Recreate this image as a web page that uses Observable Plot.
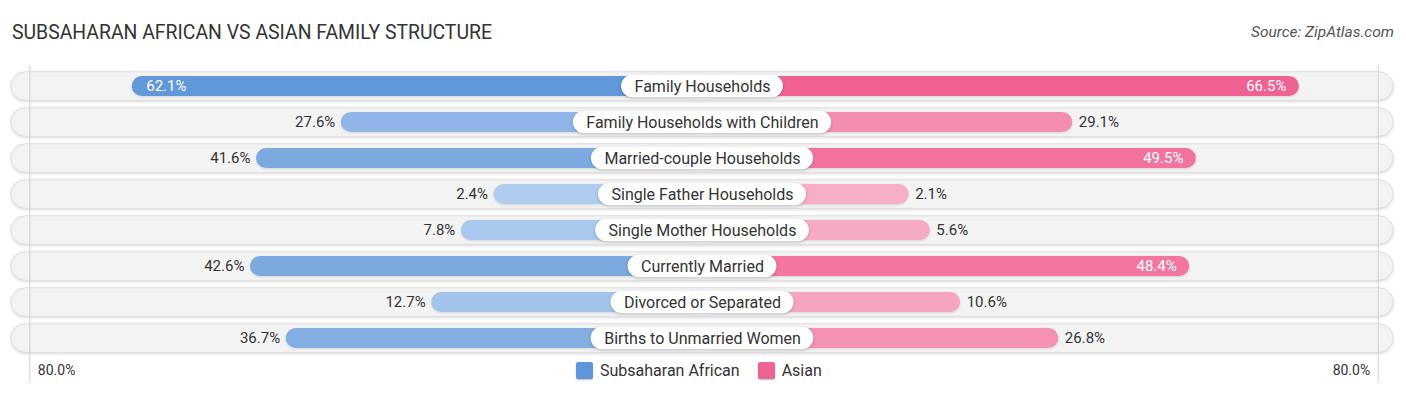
<!DOCTYPE html>
<html>
<head>
<meta charset="utf-8">
<script src="https://cdn.jsdelivr.net/npm/d3@7"></script>
<script src="https://cdn.jsdelivr.net/npm/@observablehq/plot@0.6"></script>
<style>
  html, body { margin: 0; padding: 0; background: #fff; }
  #wrap { position: relative; width: 1406px; height: 395px; font-family: Roboto, "Noto Sans", sans-serif; }
  #title { position: absolute; left: 12px; top: 21px; font-size: 19.4px; color: #333; }
  #source { position: absolute; right: 12px; top: 23px; font-size: 15.5px; font-style: italic; color: #555; }
  #legend { position: absolute; left: 576px; top: 361px; font-size: 16px; color: #333; display: flex; align-items: center; }
  #legend .sw { width: 17px; height: 17px; border-radius: 2px; margin-right: 7px; box-shadow: 0 1px 1.5px rgba(0,0,0,0.25); }
  #legend .item { display: flex; align-items: center; margin-right: 18px; }
  #chart { position: absolute; left: 0; top: 0; }
</style>
</head>
<body>
<div id="wrap">
  <div id="chart"></div>
  <div id="title"></div>
  <div id="source"></div>
  <div id="legend"></div>
</div>
<script>
const title = "SUBSAHARAN AFRICAN VS ASIAN FAMILY STRUCTURE";
const source = "Source: ZipAtlas.com";
const categories = [
  "Family Households",
  "Family Households with Children",
  "Married-couple Households",
  "Single Father Households",
  "Single Mother Households",
  "Currently Married",
  "Divorced or Separated",
  "Births to Unmarried Women"
];
const seriesNames = ["Subsaharan African", "Asian"];
const subsaharan = [62.1, 27.6, 41.6, 2.4, 7.8, 42.6, 12.7, 36.7];
const asian = [66.5, 29.1, 49.5, 2.1, 5.6, 48.4, 10.6, 26.8];
const axisMax = 80;
const axisTickLabels = ["80.0%", "80.0%"];

// styling constants
const OFFSET = 32;           // bar base offset (data units) hidden behind label pill
const K = 6.06;              // px per unit
const C = 702;               // center px
const D = 115;
const blueDark = "#5f96d8", blueLight = "#b3cff0";
const pinkDark = "#f06292", pinkLight = "#f8b2c8";
const colorFor = (light, dark, v) => d3.interpolateRgb(light, dark)(Math.min(1, v / 64));
const insideThreshold = 45;
const LABEL_FONT = 16, VALUE_FONT = 15;

document.getElementById("title").textContent = title;
document.getElementById("source").textContent = source;
const legend = document.getElementById("legend");
[[seriesNames[0], blueDark], [seriesNames[1], pinkDark]].forEach(([n, c]) => {
  const it = document.createElement("div"); it.className = "item";
  const sw = document.createElement("div"); sw.className = "sw"; sw.style.background = c;
  const tx = document.createElement("span"); tx.textContent = n;
  it.appendChild(sw); it.appendChild(tx); legend.appendChild(it);
});

const ctx = document.createElement("canvas").getContext("2d");
ctx.font = LABEL_FONT + "px Roboto";

const rows = categories.map((cat, i) => ({
  cat,
  left: subsaharan[i],
  right: asian[i],
  hw: (ctx.measureText(cat).width / 2 + 13) / K
}));

const fmt = v => v.toFixed(1) + "%";
const leftIn = rows.filter(d => d.left > insideThreshold);
const leftOut = rows.filter(d => d.left <= insideThreshold);
const rightIn = rows.filter(d => d.right > insideThreshold);
const rightOut = rows.filter(d => d.right <= insideThreshold);

const chart = Plot.plot({
  width: 1406,
  height: 395,
  marginTop: 65,
  marginBottom: 12,
  marginLeft: 0,
  marginRight: 0,
  x: { domain: [-D, D], range: [C - D * K, C + D * K], axis: null },
  y: { domain: categories, range: [66.6, 357.4], padding: 0, axis: null },
  style: { fontFamily: "Roboto, 'Noto Sans', sans-serif", background: "transparent" },
  marks: [
    // track
    Plot.rectX(rows, { y: "cat", x1: -114, x2: 114, fill: "#f3f3f3", stroke: "#dedede", strokeWidth: 1, rx: 14, insetTop: 3.8, insetBottom: 3.6 }),
    Plot.ruleX([-(axisMax + 31), axisMax + 31.5], { stroke: "#cfcfcf", strokeWidth: 1 }),
    // bars
    Plot.rectX(rows, { y: "cat", x1: d => -(OFFSET + d.left), x2: 0, fill: d => colorFor(blueLight, blueDark, d.left), rx: 10, insetTop: 8, insetBottom: 8 }),
    Plot.rectX(rows, { y: "cat", x1: 0, x2: d => OFFSET + d.right, fill: d => colorFor(pinkLight, pinkDark, d.right), rx: 10, insetTop: 8, insetBottom: 8 }),
    // label pills
    Plot.rectX(rows, { y: "cat", x1: d => -d.hw, x2: d => d.hw, fill: "white", rx: 11.5, insetTop: 6.8, insetBottom: 6.8 }),
    Plot.text(rows, { y: "cat", x: 0, text: "cat", fontSize: LABEL_FONT, fill: "#333" }),
    // value labels
    Plot.text(leftIn, { y: "cat", x: d => -(OFFSET + d.left), text: d => fmt(d.left), fontSize: VALUE_FONT, fill: "white", textAnchor: "start", dx: 14 }),
    Plot.text(leftOut, { y: "cat", x: d => -(OFFSET + d.left), text: d => fmt(d.left), fontSize: VALUE_FONT, fill: "#333", textAnchor: "end", dx: -6 }),
    Plot.text(rightIn, { y: "cat", x: d => OFFSET + d.right, text: d => fmt(d.right), fontSize: VALUE_FONT, fill: "white", textAnchor: "end", dx: -13 }),
    Plot.text(rightOut, { y: "cat", x: d => OFFSET + d.right, text: d => fmt(d.right), fontSize: VALUE_FONT, fill: "#333", textAnchor: "start", dx: 6 }),
    // axis tick labels
    Plot.text([{ x: -(axisMax + 31), t: axisTickLabels[0] }], { x: "x", text: "t", frameAnchor: "bottom", dy: -9, dx: 8, textAnchor: "start", fontSize: 14, fill: "#333" }),
    Plot.text([{ x: axisMax + 31.5, t: axisTickLabels[1] }], { x: "x", text: "t", frameAnchor: "bottom", dy: -9, dx: -8, textAnchor: "end", fontSize: 14, fill: "#333" })
  ]
});

document.getElementById("chart").appendChild(chart);

// soft shadows
const g = d3.select(chart).selectAll(":scope > g").nodes();
d3.select(g[0]).style("filter", "drop-shadow(0px 1px 1.5px rgba(0,0,0,0.15))");
d3.select(g[2]).style("filter", "drop-shadow(0px 1px 1px rgba(0,0,0,0.12))");
d3.select(g[3]).style("filter", "drop-shadow(0px 1px 1px rgba(0,0,0,0.12))");
d3.select(g[4]).style("filter", "drop-shadow(0px 1px 1.5px rgba(0,0,0,0.22))");
</script>
</body>
</html>
